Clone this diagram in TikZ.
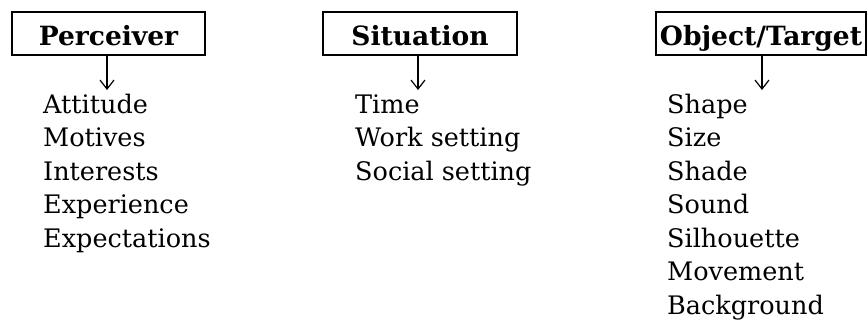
\documentclass[tikz,border=0pt]{standalone}
\usepackage{fontspec}
\setmainfont{DejaVu Serif}
\usetikzlibrary{arrows.meta}

\tikzset{
  headbox/.style={draw, line width=1.2pt, inner sep=0pt,
    text height=33pt, text depth=10pt,
    font=\fontsize{26.5}{26.5}\selectfont\bfseries},
  itemtext/.style={anchor=base west, inner sep=0pt,
    font=\fontsize{25.5}{25.5}\selectfont},
  downarrow/.style={line width=1.2pt, -{Straight Barb[length=9pt,width=14pt]}}
}

\begin{document}
\begin{tikzpicture}[x=1pt,y=-1pt]
  \useasboundingbox (0,0) rectangle (868,322);

  % three heading boxes
  \node[headbox, minimum width=193pt] (perc) at (108.5,33.5) {Perceiver};
  \node[headbox, minimum width=194pt] (situ) at (420,33.5) {Situation};
  \node[headbox, minimum width=210pt] (obj)  at (761,33.5) {Object/Target};

  % arrow ends
  \coordinate (pend) at (107,90);
  \coordinate (send) at (418,90);
  \coordinate (oend) at (762,90);
  \draw[downarrow] (perc.south -| pend) -- (pend);
  \draw[downarrow] (situ.south -| send) -- (send);
  \draw[downarrow] (obj.south -| oend) -- (oend);

  % factor lists
  \foreach \t [count=\i] in {Attitude, Motives, Interests, Experience, Expectations}
    \node[itemtext] (p\i) at (43, 113+33.5*\i-33.5) {\t};
  \foreach \t [count=\i] in {Time, Work setting, Social setting}
    \node[itemtext] (s\i) at (355, 113+33.5*\i-33.5) {\t};
  \foreach \t [count=\i] in {Shape, Size, Shade, Sound, Silhouette, Movement, Background}
    \node[itemtext] (o\i) at (667, 113+33.5*\i-33.5) {\t};
\end{tikzpicture}
\end{document}
